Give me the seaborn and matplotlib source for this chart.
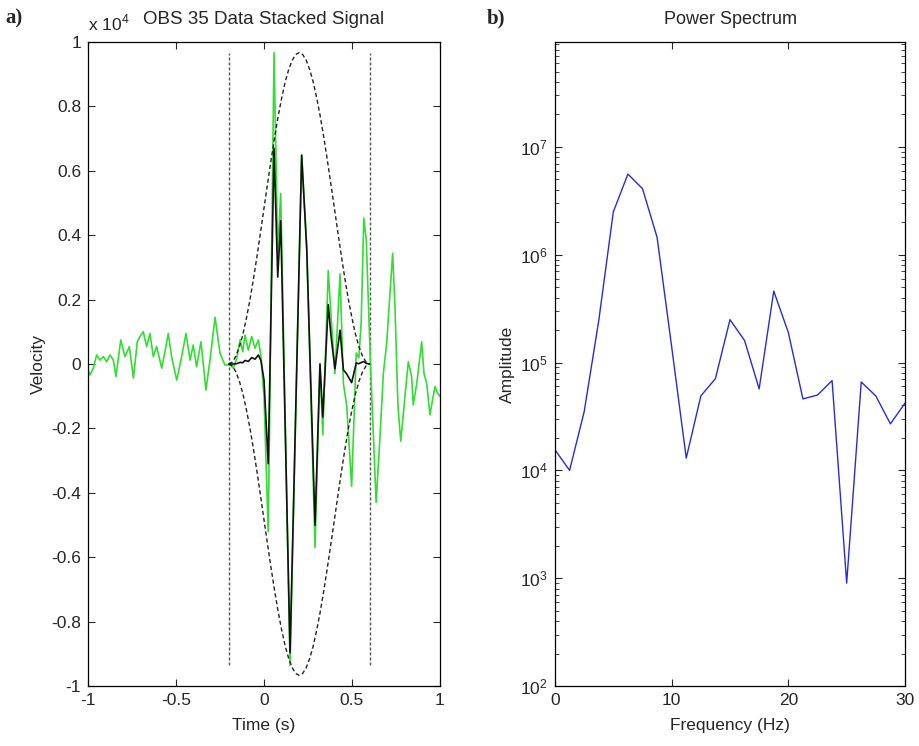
import numpy as np
import pandas as pd
import matplotlib
matplotlib.use("Agg")
import matplotlib.pyplot as plt
import seaborn as sns
from matplotlib.ticker import FixedLocator, FixedFormatter, LogLocator, NullFormatter

# ---------------- data (velocity in units of 1e4) ----------------
green_t = [-1.0, -0.989, -0.970, -0.951, -0.932, -0.913, -0.894, -0.875, -0.856, -0.841,
           -0.814, -0.790, -0.765, -0.742, -0.720, -0.705, -0.686, -0.667, -0.648, -0.629,
           -0.610, -0.581, -0.563, -0.544, -0.525, -0.496, -0.468, -0.443, -0.420, -0.402,
           -0.383, -0.358, -0.330, -0.307, -0.278, -0.250, -0.222,
           -0.193, -0.174, -0.155, -0.136, -0.121, -0.108, -0.089, -0.070, -0.051, -0.032,
           -0.017, 0.000, 0.024, 0.057, 0.078, 0.095, 0.148, 0.214, 0.243, 0.290,
           0.318, 0.334, 0.365, 0.381, 0.403, 0.432, 0.451, 0.470, 0.498, 0.524,
           0.539, 0.552, 0.567, 0.581,
           0.605, 0.637, 0.659, 0.678, 0.697, 0.731, 0.744, 0.761, 0.777, 0.801,
           0.820, 0.839, 0.848, 0.868, 0.896, 0.909, 0.924, 0.943, 0.959, 0.972,
           0.985, 1.0]
green_v = [-0.02, -0.034, -0.013, 0.028, 0.012, 0.023, 0.007, 0.028, 0.012, -0.039,
           0.075, 0.023, 0.054, -0.044, 0.069, 0.085, 0.100, 0.054, 0.095, 0.023,
           0.054, -0.013, 0.038, 0.095, 0.023, -0.050, 0.023, 0.095, 0.012, 0.059,
           -0.008, 0.069, -0.081, 0.012, 0.145, 0.033, -0.003,
           -0.003, -0.013, 0.018, 0.075, 0.038, 0.090, 0.043, 0.085, 0.049, 0.075,
           0.023, -0.10, -0.52, 0.967, 0.345, 0.53, -0.935, 0.65, 0.364, -0.57,
           0.0, -0.22, 0.29, 0.15, -0.03, 0.28, -0.06, -0.13, -0.38, 0.034,
           0.02, 0.127, 0.453, 0.385,
           0.0, -0.43, -0.226, -0.03, 0.065, 0.344, 0.18, -0.13, -0.24, -0.10,
           0.007, -0.04, -0.127, -0.06, 0.069, -0.03, -0.06, -0.158, -0.107, -0.07,
           -0.09, -0.10]

black_t = [-0.2, -0.193, -0.174, -0.155, -0.136, -0.121, -0.108, -0.089, -0.070, -0.051,
           -0.032, -0.017, 0.000, 0.024, 0.057, 0.078, 0.095, 0.148, 0.214, 0.243,
           0.290, 0.318, 0.334, 0.365, 0.381, 0.403, 0.432, 0.451, 0.470, 0.498,
           0.524, 0.539, 0.552, 0.567, 0.581, 0.6]
black_v = [0.0, 0.0, 0.0, 0.001, 0.005, 0.004, 0.011, 0.008, 0.020, 0.015,
           0.028, 0.010, -0.05, -0.31, 0.67, 0.27, 0.445, -0.897, 0.648, 0.354,
           -0.501, 0.0, -0.165, 0.184, 0.086, -0.015, 0.105, -0.018, -0.031, -0.058,
           0.003, 0.001, 0.0045, 0.0076, 0.002, 0.0]

env_t = [round(-0.2 + 0.02 * k, 2) for k in range(41)]
env_v = [0, 0.006, 0.024, 0.053, 0.092, 0.142, 0.199, 0.264, 0.334, 0.408,
         0.484, 0.559, 0.633, 0.703, 0.768, 0.825, 0.875, 0.914, 0.943, 0.961,
         0.967, 0.961, 0.943, 0.914, 0.875, 0.825, 0.768, 0.703, 0.633, 0.559,
         0.484, 0.408, 0.334, 0.264, 0.199, 0.142, 0.092, 0.053, 0.024, 0.006, 0]

window_edges = [-0.2, 0.6]

freq = [0, 1.25, 2.5, 3.75, 5, 6.25, 7.5, 8.75, 10, 11.25, 12.5, 13.75, 15,
        16.25, 17.5, 18.75, 20, 21.25, 22.5, 23.75, 25, 26.25, 27.5, 28.75, 30]
power = [1.55e4, 1.0e4, 3.5e4, 2.45e5, 2.5e6, 5.6e6, 4.1e6, 1.45e6, 1.4e5, 1.3e4,
         4.9e4, 7.1e4, 2.5e5, 1.6e5, 5.7e4, 4.6e5, 1.9e5, 4.6e4, 5.0e4, 6.8e4,
         9.0e2, 6.6e4, 4.9e4, 2.7e4, 4.2e4]

x_ticks_a = [-1, -0.5, 0, 0.5, 1]
x_labels_a = ["-1", "-0.5", "0", "0.5", "1"]
y_ticks_a = [-1, -0.8, -0.6, -0.4, -0.2, 0, 0.2, 0.4, 0.6, 0.8, 1]
y_labels_a = ["-1", "-0.8", "-0.6", "-0.4", "-0.2", "0", "0.2", "0.4", "0.6", "0.8", "1"]

# ---------------- style ----------------
sns.set_style("ticks")
plt.rcParams["font.family"] = ["Liberation Sans", "DejaVu Sans"]
plt.rcParams["axes.unicode_minus"] = False
plt.rcParams["mathtext.fontset"] = "custom"
plt.rcParams["mathtext.rm"] = "Liberation Sans"

fig = plt.figure(figsize=(9.2, 7.46), dpi=100)
ax1 = fig.add_axes([88 / 920, 60 / 746, 352 / 920, 644 / 746])
ax2 = fig.add_axes([555 / 920, 60 / 746, 350 / 920, 644 / 746])

df_g = pd.DataFrame({"t": green_t, "v": green_v})
df_b = pd.DataFrame({"t": black_t, "v": black_v})
df_e = pd.DataFrame({"t": env_t, "up": env_v, "lo": [-e for e in env_v]})
df_p = pd.DataFrame({"f": freq, "p": power})

# vertical window lines
vmin, vmax = min(green_v), max(green_v)
for xe in window_edges:
    ax1.plot([xe, xe], [vmin, vmax], color="#555555", lw=1.0, ls=(0, (2.2, 1.4)))

sns.lineplot(data=df_g, x="t", y="v", ax=ax1, color="#33dd33", lw=1.2,
             estimator=None, sort=False)
sns.lineplot(data=df_e, x="t", y="up", ax=ax1, color="#222222", lw=1.0,
             estimator=None, sort=False, dashes=False, linestyle=(0, (3, 2)))
sns.lineplot(data=df_e, x="t", y="lo", ax=ax1, color="#222222", lw=1.0,
             estimator=None, sort=False, dashes=False, linestyle=(0, (3, 2)))
sns.lineplot(data=df_b, x="t", y="v", ax=ax1, color="#111111", lw=1.2,
             estimator=None, sort=False)

ax1.set_xlim(-1, 1)
ax1.set_ylim(-1, 1)
ax1.xaxis.set_major_locator(FixedLocator(x_ticks_a))
ax1.xaxis.set_major_formatter(FixedFormatter(x_labels_a))
ax1.yaxis.set_major_locator(FixedLocator(y_ticks_a))
ax1.yaxis.set_major_formatter(FixedFormatter(y_labels_a))
ax1.set_xlabel("Time (s)", fontsize=12.5, labelpad=7)
ax1.set_ylabel("Velocity", fontsize=12.5, labelpad=4)
ax1.set_title("OBS 35 Data Stacked Signal", fontsize=13.5, pad=13)
ax1.text(0.0, 1.014, r"x 10$^{4}$", transform=ax1.transAxes, fontsize=12.5,
         ha="left", va="bottom")

sns.lineplot(data=df_p, x="f", y="p", ax=ax2, color="#2b2bd6", lw=1.0,
             estimator=None, sort=False)
ax2.set_yscale("log")
ax2.set_xlim(0, 30)
ax2.set_ylim(1e2, 9.4e7)
ax2.set_xticks([0, 10, 20, 30])
ax2.set_xticklabels(["0", "10", "20", "30"])
ax2.yaxis.set_major_locator(LogLocator(base=10, numticks=10))
ax2.yaxis.set_minor_locator(LogLocator(base=10, subs=np.arange(2, 10), numticks=100))
ax2.yaxis.set_minor_formatter(NullFormatter())
ax2.set_xlabel("Frequency (Hz)", fontsize=12.5, labelpad=7)
ax2.set_ylabel("Amplitude", fontsize=12.5, labelpad=4)
ax2.set_title("Power Spectrum", fontsize=13, pad=13)

for ax in (ax1, ax2):
    ax.tick_params(which="major", direction="in", length=5, width=0.8,
                   top=True, right=True, labelsize=12.5, pad=5)
    ax.tick_params(which="minor", direction="in", length=3, width=0.6,
                   top=True, right=True)
    for s in ax.spines.values():
        s.set_visible(True)
        s.set_linewidth(0.9)
        s.set_color("black")

fig.text(5 / 920, 1 - 18 / 746, "a)", fontsize=15, fontweight="bold",
         family=["Liberation Serif", "DejaVu Serif"], ha="left", va="center")
fig.text(487 / 920, 1 - 18 / 746, "b)", fontsize=15, fontweight="bold",
         family=["Liberation Serif", "DejaVu Serif"], ha="left", va="center")

fig.savefig("out.png", dpi=100)
